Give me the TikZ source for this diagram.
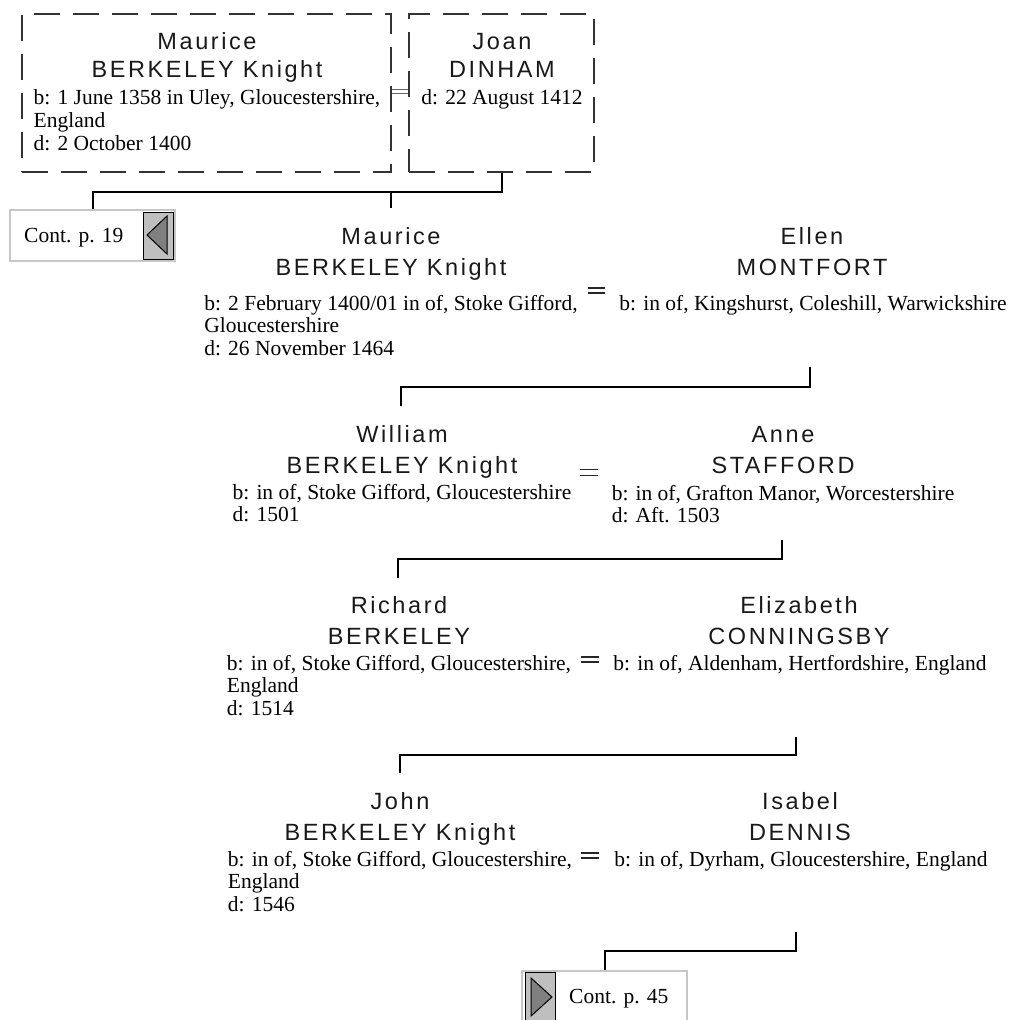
\documentclass[tikz,border=0pt]{standalone}
\usepackage{fontspec}
\setmainfont{Liberation Serif}
\newfontfamily\nmfam[LetterSpace=11]{Liberation Sans}
\newcommand\pnm[1]{\begin{tabular}[t]{@{}c@{}}#1\end{tabular}}
\newcommand\pinf[1]{\begin{tabular}[t]{@{}l@{}}#1\end{tabular}}
\begin{document}
\begin{tikzpicture}[x=1pt,y=-1pt,
  nm/.style={inner sep=0pt, anchor=base, text=black!90, font={\nmfam\fontsize{23.5}{31}\selectfont}},
  nmtop/.style={nm, font={\nmfam\fontsize{23.5}{28}\selectfont}},
  info/.style={inner sep=0pt, anchor=base, font={\fontsize{21.5}{22.5}\selectfont}},
  infotop/.style={inner sep=0pt, anchor=base, font={\fontsize{21.5}{23}\selectfont}},
  conn/.style={draw=black, line width=2pt},
  marr/.style={draw=black!85, line width=1.8pt},
  marrtop/.style={draw=black!60, line width=1pt},
  dbox/.style={draw=black!80, line width=1.2pt, dash pattern=on 26pt off 13pt, inner sep=0pt},
  contbox/.style={draw=black!22, line width=2pt, fill=white, inner sep=0pt},
  tabbox/.style={draw=black, line width=1pt, fill=black!25, inner sep=0pt},
  tri/.style={draw=black, line width=1pt, fill=black!50, line join=miter},
  conttxt/.style={inner sep=0pt, anchor=base west, font={\fontsize{21.5}{22.5}\selectfont}}
]
\useasboundingbox (0,0) rectangle (1009,1020);

% ---- top generation (dashed boxes)
\node[dbox, minimum width=369, minimum height=158] (b1) at (206.5,93) {};
\node[dbox, minimum width=185, minimum height=158] (b2) at (501.5,93) {};
\node[nmtop] (p1n) at (207,49) {\pnm{Maurice\\BERKELEY Knight}};
\node[infotop] (p1i) at (207,104) {\pinf{b: 1 June 1358 in Uley, Gloucestershire,\\England\\d: 2 October 1400}};
\node[nmtop] (p2n) at (502,49) {\pnm{Joan\\DINHAM}};
\node[infotop] (p2i) at (502,104) {\pinf{d: 22 August 1412}};
\draw[marrtop] (b1.east |- 0,89) -- (b2.west |- 0,89) (b1.east |- 0,93) -- (b2.west |- 0,93);

% continuation box p. 19
\node[contbox, minimum width=165, minimum height=51] (cont1) at (92.5,235.5) {};
\node[conttxt] (cont1t) at (24,242) {Cont. p. 19};
\node[tabbox, minimum width=30, minimum height=47] (tab1) at (158,235.5) {};
\draw[tri] (167,216) -- (167,254) -- (147,235) -- cycle;

% connectors from top couple
\coordinate (k1) at (391,191);
\coordinate (m2top) at (391,208);
\draw[conn] (b2.south) -- ++(0,19) -| (cont1.north);
\draw[conn] (k1) -- (m2top);

% ---- generation 2
\node[nm] (p3n) at (391,244) {\pnm{Maurice\\BERKELEY Knight}};
\node[info] (p3i) at (391,310) {\pinf{b: 2 February 1400/01 in of, Stoke Gifford,\\Gloucestershire\\d: 26 November 1464}};
\node[nm] (p4n) at (812,244) {\pnm{Ellen\\MONTFORT}};
\node[info] (p4i) at (813,310) {\pinf{b: in of, Kingshurst, Coleshill, Warwickshire}};
\draw[marr] (588,288) -- (605,288) (588,293) -- (605,293);

\coordinate (d2) at (810,367);
\coordinate (c3top) at (401,406);
\draw[conn] (d2) -- ++(0,20) -| (c3top);

% ---- generation 3
\node[nm] (p5n) at (402,442) {\pnm{William\\BERKELEY Knight}};
\node[info] (p5i) at (402,499) {\pinf{b: in of, Stoke Gifford, Gloucestershire\\d: 1501}};
\node[nm] (p6n) at (783,442) {\pnm{Anne\\STAFFORD}};
\node[info] (p6i) at (783,500) {\pinf{b: in of, Grafton Manor, Worcestershire\\d: Aft. 1503}};
\draw[marr] (580,469.5) -- (598,469.5) (580,475.5) -- (598,475.5);

\coordinate (d3) at (782,540);
\coordinate (c4top) at (398,578);
\draw[conn] (d3) -- ++(0,19) -| (c4top);

% ---- generation 4
\node[nm] (p7n) at (399,613) {\pnm{Richard\\BERKELEY}};
\node[info] (p7i) at (399,670) {\pinf{b: in of, Stoke Gifford, Gloucestershire,\\England\\d: 1514}};
\node[nm] (p8n) at (799,613) {\pnm{Elizabeth\\CONNINGSBY}};
\node[info] (p8i) at (800,670) {\pinf{b: in of, Aldenham, Hertfordshire, England}};
\draw[marr] (581,657) -- (599,657) (581,662) -- (599,662);

\coordinate (d4) at (796,737);
\coordinate (c5top) at (400,773);
\draw[conn] (d4) -- ++(0,18) -| (c5top);

% ---- generation 5
\node[nm] (p9n) at (400,809) {\pnm{John\\BERKELEY Knight}};
\node[info] (p9i) at (400,866) {\pinf{b: in of, Stoke Gifford, Gloucestershire,\\England\\d: 1546}};
\node[nm] (p10n) at (800,809) {\pnm{Isabel\\DENNIS}};
\node[info] (p10i) at (801,866) {\pinf{b: in of, Dyrham, Gloucestershire, England}};
\draw[marr] (581,853) -- (599,853) (581,858) -- (599,858);

% continuation box p. 45
\node[contbox, minimum width=165, minimum height=51] (cont2) at (604.5,996.5) {};
\node[tabbox, minimum width=30, minimum height=49] (tab2) at (540,996.5) {};
\draw[tri] (531,978) -- (531,1016) -- (552,997) -- cycle;
\node[conttxt] (cont2t) at (569,1003) {Cont. p. 45};

\coordinate (d5) at (796,932);
\draw[conn] (d5) -- ++(0,19) -| (cont2.north);
\end{tikzpicture}
\end{document}
